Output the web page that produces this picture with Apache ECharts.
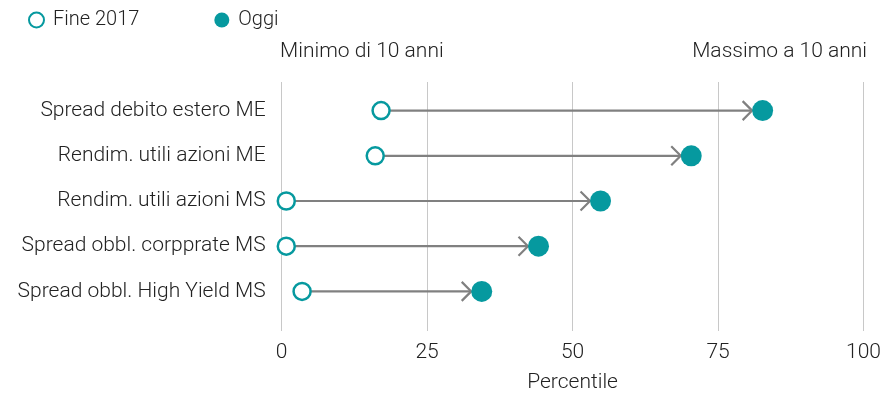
<!DOCTYPE html>
<html>
<head>
<meta charset="utf-8">
<script src="https://cdn.jsdelivr.net/npm/echarts@6/dist/echarts.min.js"></script>
<style>
  html, body { margin: 0; padding: 0; background: #fff; }
  #chart { width: 884px; height: 398px; }
</style>
</head>
<body>
<div id="chart"></div>
<script>
// Percentile positions over a ten-year range
const categories = [
  'Spread debito estero ME',
  'Rendim. utili azioni ME',
  'Rendim. utili azioni MS',
  'Spread obbl. corpprate MS',
  'Spread obbl. High Yield MS'
];
const fine2017 = [17.0, 16.0, 0.8, 0.8, 3.5];
const oggi = [82.2, 70.0, 54.5, 43.9, 34.2];
const xTicks = [0, 25, 50, 75, 100];

const TEAL = '#06999f';
const GREY = '#808080';
const FONT = 'Roboto';
const FS = 21;
const TXT = '#222';

const chart = echarts.init(document.getElementById('chart'));

const arrowData = categories.map((c, i) => [fine2017[i], oggi[i], i]);

chart.setOption({
  animation: false,
  textStyle: { fontFamily: FONT, fontWeight: 300, color: TXT },
  legend: {
    left: 23, top: 5,
    itemWidth: 15, itemHeight: 15, itemGap: 75,
    textStyle: { fontSize: 20, fontFamily: FONT, fontWeight: 300, color: TXT, padding: [0, 0, 0, 4] },
    data: ['Fine 2017', 'Oggi']
  },
  graphic: [
    { type: 'text', left: 280, top: 41, style: { text: 'Minimo di 10 anni', font: '300 21px Roboto', fill: TXT } },
    { type: 'text', right: 17, top: 41, style: { text: 'Massimo a 10 anni', font: '300 21px Roboto', fill: TXT, align: 'right' } }
  ],
  grid: [
    { left: 281.6, right: 17.2, top: 82, bottom: 64 },
    { left: 281.6, right: 17.2, top: 88, height: 226 }
  ],
  xAxis: [
    {
      gridIndex: 0, type: 'value', min: 0, max: 100, interval: 25,
      axisLine: { show: false }, axisTick: { show: false },
      splitLine: { lineStyle: { color: '#c8c8c8', width: 1 } },
      axisLabel: {
        margin: 11, fontSize: FS, fontFamily: FONT, fontWeight: 300, color: TXT,
        formatter: v => xTicks.includes(v) ? String(v) : ''
      },
      name: 'Percentile', nameLocation: 'middle', nameGap: 41,
      nameTextStyle: { fontSize: FS, fontFamily: FONT, fontWeight: 300, color: TXT }
    },
    {
      gridIndex: 1, type: 'value', min: 0, max: 100, show: false
    }
  ],
  yAxis: [
    { gridIndex: 0, type: 'value', show: false },
    {
      gridIndex: 1, type: 'category', data: categories, inverse: true,
      axisLine: { show: false }, axisTick: { show: false }, splitLine: { show: false },
      axisLabel: { margin: 16, fontSize: FS, fontFamily: FONT, fontWeight: 300, color: TXT }
    }
  ],
  series: [
    {
      name: 'arrows', type: 'custom', xAxisIndex: 1, yAxisIndex: 1,
      data: arrowData, silent: true, z: 1,
      renderItem: function (params, api) {
        const p0 = api.coord([api.value(0), api.value(2)]);
        const p1 = api.coord([api.value(1), api.value(2)]);
        const x0 = p0[0] + 9;
        const tip = p1[0] - 10.5;
        const y = p0[1];
        const a = 9.5;
        return {
          type: 'group',
          children: [
            { type: 'line', shape: { x1: x0, y1: y, x2: tip, y2: y },
              style: { stroke: GREY, lineWidth: 2.2 } },
            { type: 'polyline', shape: { points: [[tip - a, y - a], [tip, y], [tip - a, y + a]] },
              style: { stroke: GREY, lineWidth: 2.2, fill: null } }
          ]
        };
      }
    },
    {
      name: 'Fine 2017', type: 'scatter', xAxisIndex: 1, yAxisIndex: 1, z: 3,
      symbol: 'circle', symbolSize: 17,
      itemStyle: { color: '#fff', borderColor: TEAL, borderWidth: 2.5, opacity: 1 },
      data: fine2017.map((v, i) => [v, categories[i]])
    },
    {
      name: 'Oggi', type: 'scatter', xAxisIndex: 1, yAxisIndex: 1, z: 3,
      symbol: 'circle', symbolSize: 21,
      itemStyle: { color: TEAL, opacity: 1 },
      data: oggi.map((v, i) => [v, categories[i]])
    }
  ]
});
</script>
</body>
</html>
